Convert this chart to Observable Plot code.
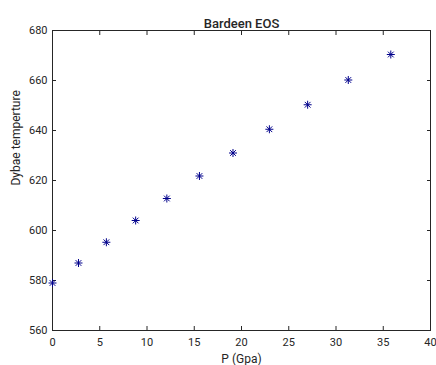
<!DOCTYPE html>
<html>
<head>
<meta charset="utf-8">
<script src="https://cdn.jsdelivr.net/npm/d3@7"></script>
<script src="https://cdn.jsdelivr.net/npm/@observablehq/plot@0.6"></script>
<style>
  body { margin: 0; background: #fff; }
  svg { display: block; }
</style>
</head>
<body>
<div id="chart"></div>
<script>
const pressure = [0, 2.75, 5.7, 8.8, 12.1, 15.55, 19.1, 22.95, 27.0, 31.3, 35.8];
const temperature = [579.0, 587.0, 595.3, 604.0, 612.8, 621.8, 631.0, 640.5, 650.3, 660.2, 670.4];
const xTicks = [0, 5, 10, 15, 20, 25, 30, 35, 40];
const yTicks = [560, 580, 600, 620, 640, 660, 680];
const title = "Bardeen EOS";
const xLabel = "P (Gpa)";
const yLabel = "Dybae temperture";

const data = pressure.map((p, i) => ({p, t: temperature[i]}));
const ink = "#262626";
const markColor = "#00008B";
const blank = () => "";

const chart = Plot.plot({
  width: 436,
  height: 365,
  marginLeft: 52,
  marginRight: 6,
  marginTop: 30,
  marginBottom: 35,
  style: {fontFamily: "Roboto, 'Liberation Sans', sans-serif", fontSize: "11px", color: ink, background: "#fff"},
  x: {domain: [0, 40]},
  y: {domain: [560, 680]},
  marks: [
    Plot.frame({stroke: ink, strokeWidth: 1}),
    Plot.axisX(xTicks, {anchor: "bottom", tickSize: 0, tickPadding: 8, fill: ink, label: null, fontSize: 11}),
    Plot.axisX(xTicks, {anchor: "bottom", tickSize: -4, tickFormat: blank, stroke: ink, label: null}),
    Plot.axisX(xTicks, {anchor: "top", tickSize: -4, tickFormat: blank, stroke: ink, label: null}),
    Plot.axisY(yTicks, {anchor: "left", tickSize: 0, tickPadding: 5, fill: ink, label: null, fontSize: 11}),
    Plot.axisY(yTicks, {anchor: "left", tickSize: -4, tickFormat: blank, stroke: ink, label: null}),
    Plot.axisY(yTicks, {anchor: "right", tickSize: -4, tickFormat: blank, stroke: ink, label: null}),
    Plot.text([xLabel], {frameAnchor: "bottom", lineAnchor: "bottom", dy: 32, fontSize: 12, fill: ink}),
    Plot.text([yLabel], {frameAnchor: "left", rotate: -90, lineAnchor: "top", dx: -41, dy: 5, fontSize: 12, fill: ink}),
    Plot.text([title], {frameAnchor: "top", lineAnchor: "bottom", dy: -3, fontSize: 13, fontWeight: 500, fill: ink}),
    Plot.dot(data, {x: "p", y: "t", symbol: "plus", r: 2.7, stroke: markColor, strokeWidth: 1}),
    Plot.dot(data, {x: "p", y: "t", symbol: "times", r: 2.7, stroke: markColor, strokeWidth: 1})
  ]
});
document.getElementById("chart").appendChild(chart);
</script>
</body>
</html>
